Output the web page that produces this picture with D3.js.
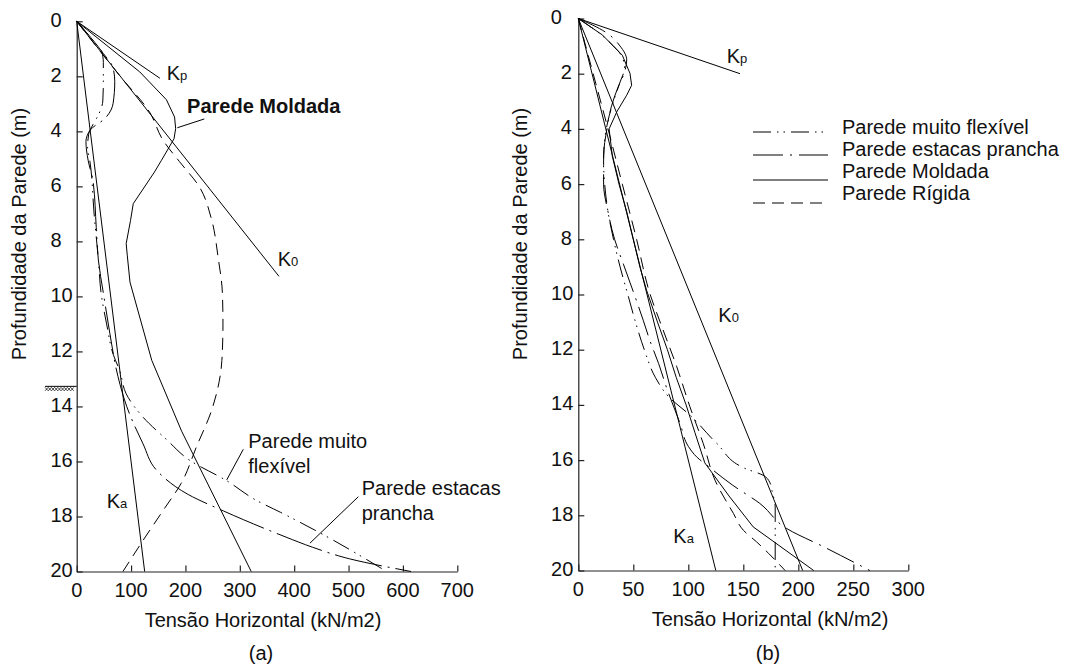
<!DOCTYPE html>
<html>
<head>
<meta charset="utf-8">
<script src="https://cdn.jsdelivr.net/npm/d3@7"></script>
<style>
  html, body { margin: 0; padding: 0; background: #fff; }
  svg text { font-family: "Liberation Sans", Arial, Helvetica, sans-serif; fill: #111; }
</style>
</head>
<body>
<svg id="chart" width="1068" height="666"></svg>
<script>
// ---------- data: horizontal stress (kN/m2) against wall depth (m) ----------
const depthTicks = [0, 2, 4, 6, 8, 10, 12, 14, 16, 18, 20];
const stressTicksA = [0, 100, 200, 300, 400, 500, 600, 700];
const stressTicksB = [0, 50, 100, 150, 200, 250, 300];

// panel (a)
const kaA = [[0, 0], [125, 20]];
const k0A = [[0, 0], [372, 9.27]];
const kpA = [[0, 0], [153, 2.07]];
const moldadaA = [[0, 0], [116, 1.84], [165, 2.85], [180, 3.48], [182, 3.9], [179, 4.27], [156, 5.05],
  [143, 5.48], [104, 6.63], [99, 7.24], [91, 8.08], [93, 8.5], [98, 9.48], [138, 12.32], [193, 14.9], [321, 20]];
const rigidaA = [[0, 0], [80, 2], [134, 3.3], [159, 4.33], [189, 5.1], [226, 6.03], [248, 7.2], [260, 8.57],
  [268, 9.9], [269, 11], [267, 12.33], [250, 14.03], [220, 15.48], [192, 16.8], [160, 17.75], [122, 18.87], [85, 20]];
const estacasA = [[0, 0], [49, 1.17], [67, 1.7], [70, 2.19], [67, 2.98], [52, 3.53], [25, 3.95], [17, 4.38],
  [21, 5.05], [30, 5.8], [36, 7.5], [40, 8.7], [50, 10], [61, 11.35], [76, 12.92], [92, 14.0], [122, 15.36],
  [147, 16.32], [205, 17.2], [270, 17.8], [385, 18.75], [434, 19.12], [502, 19.54], [615, 20]];
const muitoA = [[0, 0], [30, 0.7], [46, 1.1], [49, 1.5], [49, 2.2], [48, 2.9], [40, 3.4], [30, 3.75], [22, 4.1],
  [20, 4.6], [24, 5.05], [32, 7], [40, 8.7], [45, 9.9], [55, 11], [67, 12.1], [79, 12.7], [91, 13.54], [122, 14.39],
  [165, 15.2], [208, 15.96], [275, 16.69], [331, 17.42], [375, 17.85], [445, 18.57], [570, 20]];

// panel (b)
const kaB = [[0, 0], [125, 20]];
const k0B = [[0, 0], [204, 20]];
const kpB = [[0, 0], [147, 2]];
const moldadaB = [[0, 0], [22, 0.6], [40, 1.33], [47, 1.99], [48.5, 2.42], [44, 2.78], [35, 3.38], [28, 4.0],
  [31, 5], [37, 6], [44, 7], [50, 8], [56, 9], [62, 9.84], [72, 11], [81, 12], [89, 13], [98, 14], [106, 15],
  [115, 16.1], [137, 17.3], [159, 18.42], [214, 20]];
const rigidaB = [[0, 0], [13.5, 2], [27, 4], [40, 6], [53, 8], [65, 9.96], [76, 11.17], [89.5, 12.62],
  [101.5, 14.07], [113.6, 15.4], [124.3, 16.73], [141, 17.93], [150, 18.54], [162, 18.96], [173, 19.38], [188, 20]];
const estacasB = [[0, 0], [25, 0.5], [38, 1.0], [44, 1.5], [42, 1.95], [36, 2.5], [30, 3.2], [26, 4.0], [23, 5.0],
  [23, 6.0], [27, 7.0], [33, 8.0], [41, 8.9], [50, 9.9], [59, 10.93], [65, 11.66], [73, 12.5], [80, 13.35],
  [92.5, 14.67], [100, 15.5], [108, 15.9], [116.7, 16.18], [140, 16.9], [165, 17.57], [189.5, 18.48], [223, 19.14], [265, 20]];
const muitoB = [[0, 0], [18, 0.5], [32, 1.0], [40, 1.4], [42, 1.8], [38, 2.3], [32, 3.0], [27, 3.7], [24, 4.4],
  [23, 5.2], [24, 6.0], [27, 7.0], [32, 8.0], [38, 9.0], [45, 10.0], [52, 11.0], [60, 12.0], [70, 13.0], [82, 13.7],
  [101.5, 14.37], [126, 15.4], [151.5, 16.3], [168, 16.55], [174, 16.8], [176, 17.1], [179, 17.7], [179, 20]];

const legendLabels = ["Parede muito flexível", "Parede estacas prancha", "Parede Moldada", "Parede Rígida"];
const axisTitleX = "Tensão Horizontal (kN/m2)";
const axisTitleY = "Profundidade da Parede (m)";

// ---------- line styles ----------
const DASH = {
  solid: null,
  muito: "18,6,1.5,5,1.5,6",
  estacas: "30,7,2,7",
  estacasLong: "48,6,2,6",
  rigida: "12,7"
};

const svg = d3.select("#chart");
const FONT = 20;

function drawPanel(cfg) {
  const x = d3.scaleLinear().domain(cfg.xDomain).range(cfg.xRange);
  const y = d3.scaleLinear().domain([0, 20]).range(cfg.yRange);
  const g = svg.append("g");

  // axes with inward ticks
  const ax = g.append("g").attr("transform", `translate(0,${cfg.yRange[1]})`)
    .call(d3.axisBottom(x).tickValues(cfg.xTicks).tickSize(-6).tickSizeOuter(0).tickFormat(""));
  const ay = g.append("g").attr("transform", `translate(${cfg.xRange[0]},0)`)
    .call(d3.axisLeft(y).tickValues(depthTicks).tickSize(-6).tickSizeOuter(0).tickFormat(""));
  [ax, ay].forEach(a => {
    a.selectAll("path, line").attr("stroke", "#222").attr("stroke-width", 1.2);
    a.selectAll("text").remove();
  });

  // tick labels
  g.selectAll(".xl").data(cfg.xTicks).join("text")
    .attr("x", d => x(d)).attr("y", cfg.yRange[1] + 25)
    .attr("text-anchor", "middle").attr("font-size", FONT).text(d => d);
  g.selectAll(".yl").data(depthTicks).join("text")
    .attr("x", d => cfg.xRange[0] - cfg.yLabelGap(d)).attr("y", d => y(d) + 5.5)
    .attr("text-anchor", "end").attr("font-size", FONT).text(d => d);

  // axis titles
  g.append("text").attr("x", cfg.titleX).attr("y", cfg.yRange[1] + 55)
    .attr("text-anchor", "middle").attr("font-size", FONT).text(axisTitleX);
  g.append("text").attr("x", cfg.titleX - 2).attr("y", 660)
    .attr("text-anchor", "middle").attr("font-size", FONT).text(cfg.tag);
  g.append("text")
    .attr("transform", `translate(${cfg.xRange[0] - 51},${cfg.yTitleY}) rotate(-90)`)
    .attr("text-anchor", "middle").attr("font-size", FONT).text(axisTitleY);

  // curves
  const line = (curve) => d3.line().x(p => x(p[0])).y(p => y(p[1])).curve(curve);
  cfg.series.forEach(s => {
    g.append("path").datum(s.data)
      .attr("d", line(s.smooth ? d3.curveMonotoneY : d3.curveLinear))
      .attr("fill", "none").attr("stroke", "#000").attr("stroke-width", 1)
      .attr("stroke-dasharray", s.dash);
  });

  // coefficient labels (K with small index)
  cfg.kLabels.forEach(k => {
    const t = g.append("text").attr("x", x(k.at[0])).attr("y", y(k.at[1])).attr("font-size", FONT);
    t.append("tspan").text("K");
    t.append("tspan").attr("font-size", 13).text(k.sub);
  });

  // annotations
  (cfg.notes || []).forEach(n => {
    const t = g.append("text").attr("font-size", FONT).attr("font-weight", n.bold ? "bold" : null);
    n.lines.forEach((s, i) => t.append("tspan").attr("x", x(n.at[0])).attr("y", y(n.at[1]) + i * 25).text(s));
    if (n.leader) {
      g.append("line")
        .attr("x1", x(n.leader[0][0])).attr("y1", y(n.leader[0][1]))
        .attr("x2", x(n.leader[1][0])).attr("y2", y(n.leader[1][1]))
        .attr("stroke", "#000").attr("stroke-width", 1);
    }
  });

  return { x, y, g };
}

// ---------- panel (a) ----------
const pa = drawPanel({
  xDomain: [0, 700], xRange: [76.7, 457.3], yRange: [21.3, 571.5], xTicks: stressTicksA,
  yLabelGap: d => (d >= 10 ? 4 : 15), titleX: 263, yTitleY: 234, tag: "(a)",
  series: [
    { data: kaA, dash: DASH.solid },
    { data: k0A, dash: DASH.solid },
    { data: kpA, dash: DASH.solid },
    { data: moldadaA, dash: DASH.solid },
    { data: rigidaA, dash: DASH.rigida, smooth: true },
    { data: estacasA, dash: DASH.estacasLong, smooth: true },
    { data: muitoA, dash: DASH.muito, smooth: true }
  ],
  kLabels: [
    { sub: "p", at: [165.5, 2.13] },
    { sub: "0", at: [369.7, 8.9] },
    { sub: "a", at: [55.2, 17.69] }
  ],
  notes: [
    { lines: ["Parede Moldada"], at: [203, 3.35], bold: true, leader: [[234.7, 3.55], [185, 3.87]] },
    { lines: ["Parede muito", "flexível"], at: [315.6, 15.52], leader: [[306.4, 15.56], [275.9, 16.67]] },
    { lines: ["Parede estacas", "prancha"], at: [524.2, 17.22], leader: [[518, 17.28], [429, 18.97]] }
  ]
});

// water table marker on the depth axis of panel (a)
(function () {
  const yw = pa.y(13.27), x0 = 45, x1 = pa.x(0);
  pa.g.append("line").attr("x1", x0).attr("x2", x1).attr("y1", yw).attr("y2", yw)
    .attr("stroke", "#000").attr("stroke-width", 1);
  const zig = d3.range(x0, x1, 3.2);
  const zz = (off) => zig.map((xv, i) => [xv, yw + 1 + ((i + off) % 2) * 3.5]);
  [0, 1].forEach(off => pa.g.append("path").attr("d", d3.line()(zz(off)))
    .attr("fill", "none").attr("stroke", "#000").attr("stroke-width", 0.7));
})();

// ---------- panel (b) ----------
const pb = drawPanel({
  xDomain: [0, 300], xRange: [578.3, 908.3], yRange: [18.5, 570.5], xTicks: stressTicksB,
  yLabelGap: d => (d === 0 ? 16.5 : (d >= 10 ? 5 : 6.5)), titleX: 770, yTitleY: 234, tag: "(b)",
  series: [
    { data: kaB, dash: DASH.solid },
    { data: k0B, dash: DASH.solid },
    { data: kpB, dash: DASH.solid },
    { data: moldadaB, dash: DASH.solid },
    { data: rigidaB, dash: DASH.rigida, smooth: true },
    { data: estacasB, dash: DASH.estacas, smooth: true },
    { data: muitoB, dash: DASH.muito, smooth: true }
  ],
  kLabels: [
    { sub: "p", at: [134.9, 1.62] },
    { sub: "0", at: [127.3, 10.99] },
    { sub: "a", at: [86.4, 18.99] }
  ]
});

// legend for panel (b)
(function () {
  const dashes = [DASH.muito, DASH.estacas, DASH.solid, DASH.rigida];
  const rowsLineY = [132, 155, 180, 203];
  const rowsTextY = [134, 156, 178, 200];
  const lg = svg.append("g");
  legendLabels.forEach((lab, i) => {
    lg.append("line").attr("x1", 753).attr("x2", 828).attr("y1", rowsLineY[i]).attr("y2", rowsLineY[i])
      .attr("stroke", "#000").attr("stroke-width", 1).attr("stroke-dasharray", dashes[i]);
    lg.append("text").attr("x", 842).attr("y", rowsTextY[i]).attr("font-size", FONT).text(lab);
  });
})();
</script>
</body>
</html>
